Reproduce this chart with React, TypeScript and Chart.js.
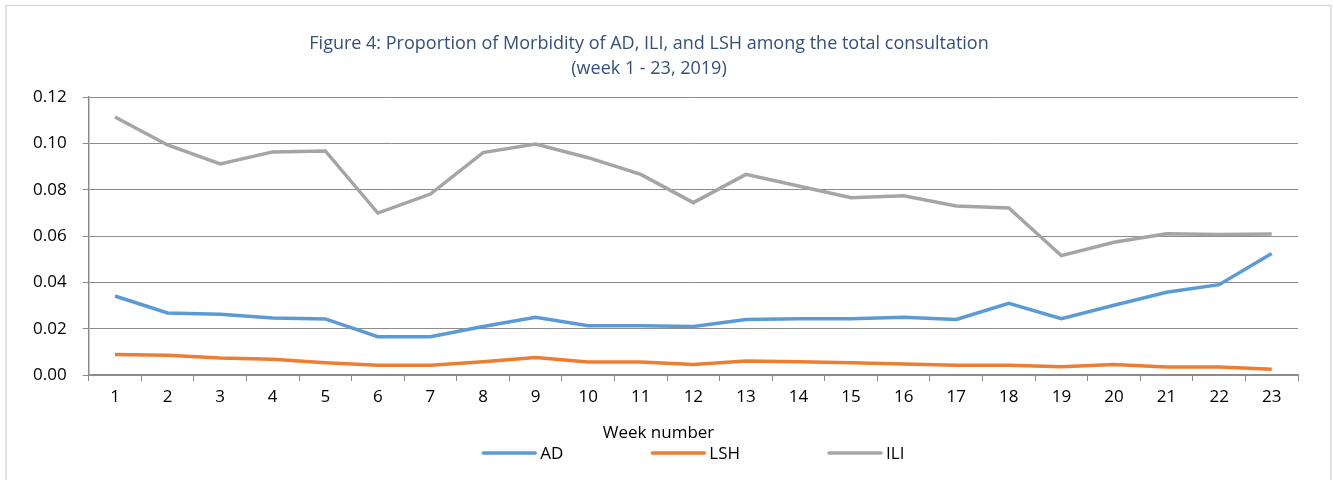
import React, { useEffect, useRef } from "react";
import { Chart, registerables } from "chart.js";

Chart.register(...registerables);

const weeks = ["1","2","3","4","5","6","7","8","9","10","11","12","13","14","15","16","17","18","19","20","21","22","23"];
const adValues = [0.0341,0.0268,0.0262,0.0246,0.0242,0.0165,0.0165,0.0209,0.0249,0.0213,0.0213,0.0209,0.0240,0.0243,0.0243,0.0249,0.0240,0.0309,0.0243,0.0301,0.0357,0.0390,0.0524];
const lshValues = [0.0089,0.0085,0.0073,0.0068,0.0053,0.0042,0.0042,0.0057,0.0075,0.0056,0.0056,0.0045,0.0060,0.0057,0.0053,0.0047,0.0042,0.0042,0.0036,0.0045,0.0035,0.0035,0.0025];
const iliValues = [0.1114,0.0993,0.0911,0.0963,0.0967,0.0699,0.0781,0.0960,0.0997,0.0938,0.0866,0.0744,0.0866,0.0816,0.0765,0.0774,0.0730,0.0721,0.0515,0.0573,0.0610,0.0607,0.0609];
const seriesNames = ["AD", "LSH", "ILI"];
const seriesColors = ["#5B9BD5", "#ED7D31", "#A5A5A5"];
const titleLines = [
  "Figure 4: Proportion of Morbidity of AD, ILI, and LSH among the total consultation",
  "(week 1 - 23, 2019)",
];
const xTitle = "Week number";

const FONT = "'Open Sans', sans-serif";

const framePlugin = {
  id: "frame",
  beforeDraw(chart: any) {
    const ctx = chart.ctx;
    ctx.save();
    ctx.fillStyle = "#ffffff";
    ctx.fillRect(0, 0, chart.width, chart.height);
    ctx.strokeStyle = "#d9d9d9";
    ctx.lineWidth = 1.5;
    ctx.strokeRect(6, 5.5, 1325, 600);
    ctx.restore();
  },
};

const legendPlugin = {
  id: "customLegend",
  afterDraw(chart: any) {
    const ctx = chart.ctx;
    ctx.save();
    // axis title
    ctx.font = `17px ${FONT}`;
    ctx.fillStyle = "#000000";
    ctx.textAlign = "center";
    ctx.textBaseline = "middle";
    ctx.fillText(xTitle, 658.5, 433);
    // legend
    ctx.font = `17px ${FONT}`;
    const box = 54;
    const gap = 4;
    const spacing = 88;
    const ds = chart.data.datasets;
    const widths = ds.map((d: any) => box + gap + ctx.measureText(d.label).width);
    const total = widths.reduce((a: number, b: number) => a + b, 0) + spacing * (ds.length - 1);
    const center = (chart.chartArea.left + chart.chartArea.right) / 2;
    let x = center - total / 2;
    const y = 453;
    ds.forEach((d: any, i: number) => {
      ctx.strokeStyle = d.borderColor;
      ctx.lineWidth = 3.5;
      ctx.lineCap = "round";
      ctx.beginPath();
      ctx.moveTo(x + 1, y);
      ctx.lineTo(x + box - 1, y);
      ctx.stroke();
      ctx.fillStyle = "#000000";
      ctx.textAlign = "left";
      ctx.fillText(d.label, x + box + gap, y + 1);
      x += widths[i] + spacing;
    });
    ctx.restore();
  },
};

export default function App() {
  const ref = useRef<HTMLCanvasElement | null>(null);
  useEffect(() => {
    if (!ref.current) return;
    const values = [adValues, lshValues, iliValues];
    const chart = new Chart(ref.current, {
      type: "line",
      data: {
        labels: weeks,
        datasets: seriesNames.map((name, i) => ({
          label: name,
          data: values[i],
          borderColor: seriesColors[i],
          backgroundColor: seriesColors[i],
          borderWidth: 3.5,
          pointRadius: 0,
          tension: 0,
          fill: false,
        })),
      },
      options: {
        animation: false,
        responsive: false,
        maintainAspectRatio: false,
        layout: { padding: { left: 0, right: 35, top: 0, bottom: 35 } },
        plugins: {
          legend: { display: false },
          tooltip: { enabled: false },
          title: {
            display: true,
            text: titleLines,
            color: "#34507A",
            font: { family: FONT, size: 18, lineHeight: 25 / 18, weight: "normal" },
            padding: { top: 31.5, bottom: 15.5 },
          },
        },
        scales: {
          x: {
            offset: true,
            grid: {
              display: true,
              offset: true,
              drawOnChartArea: false,
              drawTicks: true,
              tickLength: 6,
              color: "#8c8c8c",
            },
            border: { display: true, color: "#8c8c8c", width: 1.5 },
            ticks: {
              color: "#000000",
              font: { family: FONT, size: 17 },
              padding: 6,
              maxRotation: 0,
              autoSkip: false,
            },
            title: { display: false, text: xTitle },
            afterFit(scale: any) {
              scale.height = 70;
            },
          },
          y: {
            min: 0,
            max: 0.12,
            grid: {
              color: "#8c8c8c",
              lineWidth: 1,
              drawTicks: true,
              tickLength: 6,
            },
            border: { display: true, color: "#8c8c8c", width: 1.5 },
            ticks: {
              stepSize: 0.02,
              color: "#000000",
              font: { family: FONT, size: 17 },
              padding: 16,
              callback: (v: any) => Number(v).toFixed(2),
            },
            afterFit(scale: any) {
              scale.width = 88.7;
            },
          },
        },
      },
      plugins: [framePlugin, legendPlugin],
    });
    return () => chart.destroy();
  }, []);
  return (
    <div style={{ position: "absolute", left: 0, top: 0, width: 1333, height: 480 }}>
      <canvas ref={ref} width={1333} height={480} style={{ display: "block" }} />
    </div>
  );
}
